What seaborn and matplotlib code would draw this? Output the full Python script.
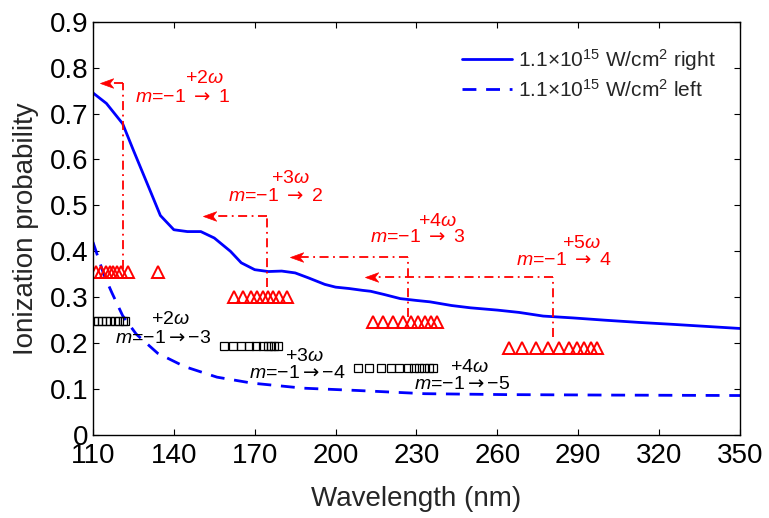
import numpy as np
import pandas as pd
import matplotlib
matplotlib.use("Agg")
import matplotlib.pyplot as plt
from matplotlib.path import Path
import seaborn as sns

# ---- curves -------------------------------------------------------------
wl_right = [110, 115, 121, 125, 131, 135, 140, 145, 150, 155, 161, 165, 170,
            175, 180, 185, 190, 196, 200, 205, 210, 213, 218, 224, 230, 235,
            243, 250, 260, 268, 277, 288, 300, 313, 325, 350]
p_right = [0.745, 0.722, 0.678, 0.620, 0.535, 0.478, 0.447, 0.443, 0.443,
           0.429, 0.400, 0.375, 0.360, 0.356, 0.357, 0.353, 0.342, 0.328,
           0.322, 0.319, 0.315, 0.313, 0.306, 0.297, 0.293, 0.290, 0.282,
           0.277, 0.272, 0.267, 0.259, 0.255, 0.250, 0.245, 0.241, 0.232]

wl_left = [110, 114, 117, 121, 126, 134, 144, 156, 169, 188, 208, 233, 263,
           300, 350]
p_left = [0.420, 0.350, 0.310, 0.260, 0.220, 0.178, 0.149, 0.126, 0.113,
          0.102, 0.097, 0.090, 0.088, 0.087, 0.086]

label_right = r"1.1×10$^{15}$ W/cm$^2$ right"
label_left = r"1.1×10$^{15}$ W/cm$^2$ left"

# ---- resonance markers (triangles: m=-1 -> positive m) -------------------
tri_wl = [
    [111, 113, 115, 116.5, 117.5, 119, 120.5, 123, 134],
    [162.4, 165.5, 168.6, 171, 172.9, 175, 176.6, 179.1, 181.8],
    [213.7, 217.5, 221.2, 224.9, 228, 230.7, 233, 235.2, 237.6],
    [264.4, 269.3, 274.2, 278.6, 282.9, 286.6, 289.7, 292.1, 294.6, 297.1],
]
tri_p = [0.355, 0.300, 0.247, 0.190]

# ---- resonance markers (squares: m=-1 -> negative m) ---------------------
sq_wl = [
    [110.5, 112, 113.5, 115, 116.5, 118, 119.5, 121, 122],
    [158.6, 161.8, 164.9, 168, 170.5, 172.9, 174.8, 176, 177.2, 178.5],
    [208.2, 212.5, 216.8, 220.5, 223.6, 226.7, 229.2, 231.1, 232.9, 234.8, 236],
]
sq_p = [0.249, 0.193, 0.145]

# ---- red transition guides: vertical x, bottom, top (= arrow level), tip --
guide_x = [121, 174.6, 226.9, 280.5]
guide_bottom = [0.362, 0.323, 0.258, 0.214]
guide_top = [0.767, 0.477, 0.388, 0.344]
guide_tip = [112.5, 150.9, 183.1, 210.9]

ARROW = r"$\mathsf{\rightarrow}$"
red_photon = [r"+2$\omega$", r"+3$\omega$", r"+4$\omega$", r"+5$\omega$"]
red_photon_xy = [(151.5, 0.776), (183.4, 0.558), (237.6, 0.466), (291, 0.416)]
red_trans = [f"$m$=−1 {ARROW} {k}" for k in (1, 2, 3, 4)]
red_trans_xy = [(143.2, 0.735), (177.9, 0.519), (230.5, 0.431), (284.7, 0.381)]

blk_photon = [r"+2$\omega$", r"+3$\omega$", r"+4$\omega$"]
blk_photon_xy = [(138.6, 0.251), (188.3, 0.170), (249.5, 0.148)]
blk_trans = [f"$m$=−1{ARROW}−{k}" for k in (3, 4, 5)]
blk_trans_xy = [(136, 0.211), (185.7, 0.135), (246.9, 0.109)]

x_ticks = [110, 140, 170, 200, 230, 260, 290, 320, 350]
y_ticks = [0, 0.1, 0.2, 0.3, 0.4, 0.5, 0.6, 0.7, 0.8, 0.9]
y_tick_labels = ["0", "0.1", "0.2", "0.3", "0.4", "0.5", "0.6", "0.7", "0.8", "0.9"]

# ---- style --------------------------------------------------------------
sns.set_theme(style="ticks")
plt.rcParams["font.family"] = ["Liberation Sans", "DejaVu Sans"]
plt.rcParams["mathtext.fontset"] = "custom"
plt.rcParams["mathtext.rm"] = "Liberation Sans"
plt.rcParams["mathtext.it"] = "Liberation Sans:italic"
plt.rcParams["mathtext.bf"] = "Liberation Sans:bold"
plt.rcParams["mathtext.sf"] = "DejaVu Sans"
plt.rcParams["axes.linewidth"] = 1.0

fig = plt.figure(figsize=(7.69, 5.18), dpi=100)
ax = fig.add_axes([0.1209, 0.1602, 0.8414, 0.7979])

df_right = pd.DataFrame({"wl": wl_right, "p": p_right})
df_left = pd.DataFrame({"wl": wl_left, "p": p_left})
sns.lineplot(data=df_right, x="wl", y="p", ax=ax, color="#0000ff", lw=2.0,
             label=label_right, sort=False)
sns.lineplot(data=df_left, x="wl", y="p", ax=ax, color="#0000ff", lw=2.0,
             label=label_left, sort=False)
ax.lines[1].set_dashes([5, 3.5])

for xs, yv in zip(tri_wl, tri_p):
    ax.plot(xs, [yv] * len(xs), ls="none", marker="^", ms=8.5,
            mfc="none", mec="#ff0000", mew=1.4)
for xs, yv in zip(sq_wl, sq_p):
    ax.plot(xs, [yv] * len(xs), ls="none", marker="s", ms=5.5,
            mfc="none", mec="black", mew=0.9)

# left-pointing arrow head with a notched back, tip at the marker origin
head = Path([(0, 0), (1, 0.36), (0.72, 0), (1, -0.36), (0, 0)],
            [Path.MOVETO, Path.LINETO, Path.LINETO, Path.LINETO, Path.CLOSEPOLY])

dashdot = (0, (5, 2.5, 1, 2.5))
for gx, gb, gt, tip in zip(guide_x, guide_bottom, guide_top, guide_tip):
    ax.plot([gx, gx], [gb, gt], color="#ff0000", lw=1.3, ls=dashdot)
    ax.plot([gx, tip + 3], [gt, gt], color="#ff0000", lw=1.3, ls=dashdot)
    ax.plot([tip], [gt], ls="none", marker=head, ms=19, color="#ff0000",
            mec="#ff0000", mew=0.5)

for t, (x, y) in zip(red_photon, red_photon_xy):
    ax.text(x, y, t, color="#ff0000", fontsize=14, ha="center", va="center")
for t, (x, y) in zip(red_trans, red_trans_xy):
    ax.text(x, y, t, color="#ff0000", fontsize=14, ha="center", va="center")
for t, (x, y) in zip(blk_photon, blk_photon_xy):
    ax.text(x, y, t, color="black", fontsize=14, ha="center", va="center")
for t, (x, y) in zip(blk_trans, blk_trans_xy):
    ax.text(x, y, t, color="black", fontsize=14, ha="center", va="center")

ax.set_xlim(110, 350)
ax.set_ylim(0, 0.9)
ax.set_xticks(x_ticks)
ax.set_yticks(y_ticks)
ax.set_yticklabels(y_tick_labels)
ax.tick_params(direction="in", length=4, width=0.8, top=True, right=True,
               labelsize=20, colors="black")
ax.tick_params(axis="x", pad=6)
ax.tick_params(axis="y", pad=3)
for s in ax.spines.values():
    s.set_visible(True)
    s.set_color("black")
ax.set_xlabel("Wavelength (nm)", fontsize=20, labelpad=12)
ax.set_ylabel("Ionization probability", fontsize=20, labelpad=8)

ax.legend(loc="upper right", frameon=False, fontsize=15, handlelength=2.4,
          handletextpad=0.3, labelspacing=0.3, borderaxespad=0.3,
          bbox_to_anchor=(0.985, 0.975))

fig.savefig("out.png", dpi=100)
